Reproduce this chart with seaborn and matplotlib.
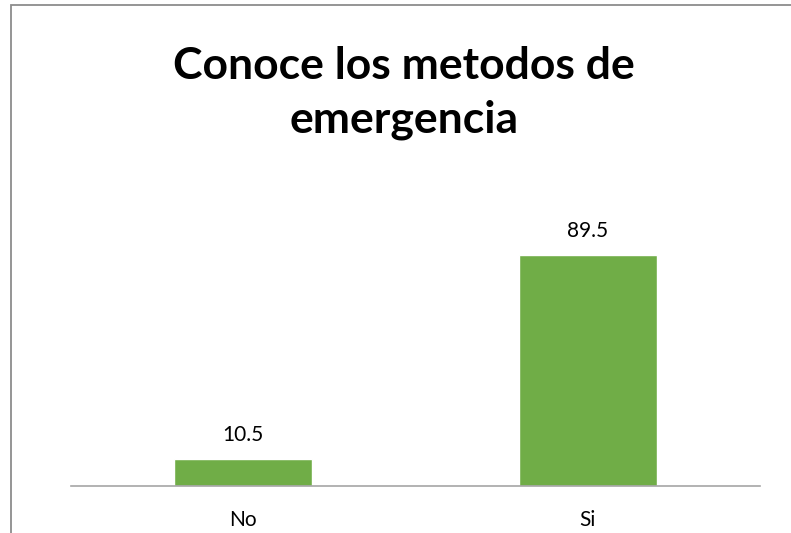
"""
Bar chart: Conoce los metodos de emergencia.
"""

import matplotlib
matplotlib.use('Agg')
import matplotlib.pyplot as plt
import seaborn as sns
import pandas as pd
from matplotlib.patches import Rectangle

# Data
categories = ['No', 'Si']
values = [10.5, 89.5]
title = 'Conoce los metodos de\nemergencia'

sns.set_style('white')
plt.rcParams['font.family'] = ['Lato', 'DejaVu Sans']

df = pd.DataFrame({'respuesta': categories, 'porcentaje': values})

fig = plt.figure(figsize=(7.91, 5.33), dpi=100)
ax = fig.add_axes([71 / 791, 47 / 533, 689 / 791, 258 / 533])

sns.barplot(data=df, x='respuesta', y='porcentaje', color='#70AD47',
            saturation=1, width=0.4, ax=ax)

ax.set_xlim(-0.5, 1.5)
ax.set_ylim(0, 100)
ax.set_xlabel('')
ax.set_ylabel('')
ax.set_yticks([])
ax.tick_params(axis='x', length=0, pad=17, labelsize=15, colors='black')

for side in ['top', 'right', 'left']:
    ax.spines[side].set_visible(False)
ax.spines['bottom'].set_color('#A6A6A6')
ax.spines['bottom'].set_linewidth(1.2)

# Value labels
for i, v in enumerate(values):
    ax.text(i, v + 5.5, f'{v}', ha='center', va='bottom', fontsize=15, color='black')

fig.text(0.511, 0.826, title, ha='center', va='center', fontsize=32,
         fontweight='bold', linespacing=1.4, color='black')

# Chart border (left and top visible in the crop)
fig.patches.append(Rectangle((11 / 791, -0.1), 1.2, (528 / 533) + 0.1,
                             transform=fig.transFigure, fill=False,
                             edgecolor='#8C8C8C', linewidth=1.3))

plt.savefig('out.png', dpi=100)
plt.close()
